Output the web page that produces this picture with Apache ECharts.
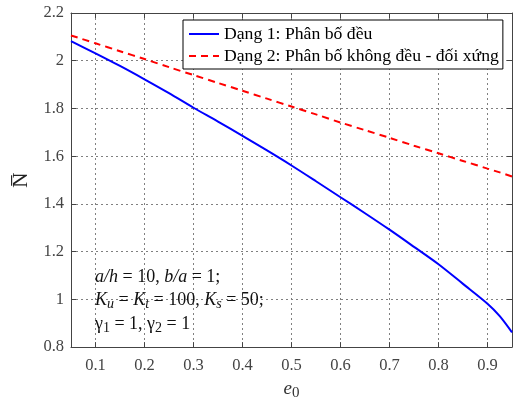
<!DOCTYPE html>
<html>
<head>
<meta charset="utf-8">
<script src="https://cdn.jsdelivr.net/npm/echarts@6/dist/echarts.min.js"></script>
<style>
  html, body { margin: 0; padding: 0; background: #fff; }
  #chart { width: 514px; height: 406px; }
</style>
</head>
<body>
<div id="chart"></div>
<script>
let myChart = echarts.init(document.getElementById('chart'));

// e0 values and the two curves
let e0 = [0.05, 0.1, 0.15, 0.2, 0.25, 0.3, 0.35, 0.4, 0.45, 0.5, 0.55, 0.6, 0.65, 0.7, 0.75, 0.8, 0.85, 0.9, 0.925, 0.95];
let dang1 = [2.082, 2.031, 1.978, 1.922, 1.864, 1.803, 1.745, 1.685, 1.624, 1.561, 1.495, 1.428, 1.361, 1.292, 1.22, 1.147, 1.065, 0.982, 0.93, 0.862];
let dang2 = [2.106, 2.073, 2.040, 2.007, 1.973, 1.940, 1.907, 1.874, 1.841, 1.808, 1.775, 1.741, 1.709, 1.677, 1.644, 1.612, 1.58, 1.548, 1.532, 1.515];

let names = ['Dạng 1: Phân bố đều', 'Dạng 2: Phân bố không đều - đối xứng'];

let FONT = '"Liberation Serif", "DejaVu Serif", serif';

function pairs(xs, ys) {
	return xs.map((x, i) => [x, ys[i]]);
}

let gridLine = {
	show: true,
	lineStyle: { color: '#808080', type: [2, 3], width: 1 }
};

option = {
	animation: false,
	backgroundColor: '#fff',
	grid: {
		left: 71,
		right: 2,
		top: 13,
		bottom: 57
	},
	legend: {
		orient: 'vertical',
		left: 183,
		top: 20,
		itemWidth: 30,
		itemHeight: 14,
		itemGap: 4,
		padding: [5, 4, 4, 5],
		backgroundColor: '#fff',
		borderColor: '#000',
		borderWidth: 1,
		borderRadius: 0,
		itemStyle: { opacity: 0 },
		textStyle: { fontFamily: FONT, fontSize: 17.7, color: '#000' },
		data: names
	},
	xAxis: [
		{
			type: 'value',
			min: 0.05,
			max: 0.95,
			splitNumber: 9,
			name: '{e|e}{s|0}',
			nameLocation: 'middle',
			nameGap: 27,
			nameTextStyle: {
				rich: {
					e: { fontFamily: FONT, fontStyle: 'italic', fontSize: 19, color: '#333' },
					s: { fontFamily: FONT, fontSize: 15, color: '#333', verticalAlign: 'bottom', padding: [10, 0, 0, 0] }
				}
			},
			axisLine: { show: true, lineStyle: { color: '#444', width: 1 } },
			axisTick: { show: true, inside: true, length: 5, lineStyle: { color: '#444' } },
			axisLabel: { showMinLabel: false, showMaxLabel: false, fontFamily: FONT, fontSize: 16.5, color: '#444', margin: 10 },
			splitLine: gridLine
		},
		{
			type: 'value',
			position: 'top',
			min: 0.05,
			max: 0.95,
			splitNumber: 9,
			axisLine: { show: true, lineStyle: { color: '#444', width: 1 } },
			axisTick: { show: true, inside: true, length: 5, lineStyle: { color: '#444' } },
			axisLabel: { show: false },
			splitLine: { show: false }
		}
	],
	yAxis: [
		{
			type: 'value',
			min: 0.8,
			max: 2.2,
			interval: 0.2,
			name: 'N\u0305',
			nameLocation: 'middle',
			nameRotate: 90,
			nameGap: 33,
			nameTextStyle: { fontFamily: FONT, fontSize: 21, color: '#222' },
			axisLine: { show: true, lineStyle: { color: '#444', width: 1 } },
			axisTick: { show: true, inside: true, length: 5, lineStyle: { color: '#444' } },
			axisLabel: { fontFamily: FONT, fontSize: 16.5, color: '#444', margin: 7 },
			splitLine: gridLine
		},
		{
			type: 'value',
			position: 'right',
			min: 0.8,
			max: 2.2,
			interval: 0.2,
			axisLine: { show: true, lineStyle: { color: '#444', width: 1 } },
			axisTick: { show: true, inside: true, length: 5, lineStyle: { color: '#444' } },
			axisLabel: { show: false },
			splitLine: { show: false }
		}
	],
	series: [
		{
			name: names[0],
			type: 'line',
			symbol: 'none',
			smooth: 0.3,
			lineStyle: { color: '#0000ff', width: 2 },
			itemStyle: { color: '#0000ff' },
			data: pairs(e0, dang1),
			z: 3
		},
		{
			name: names[1],
			type: 'line',
			symbol: 'none',
			smooth: 0.3,
			lineStyle: { color: '#ff0000', width: 2, type: [7, 5] },
			itemStyle: { color: '#ff0000' },
			data: pairs(e0, dang2),
			z: 3
		}
	],
	graphic: [
		{
			type: 'text',
			left: 95,
			top: 268,
			z: 10,
			style: {
				text: '{i|a/h} = 10, {i|b/a} = 1;',
				rich: {
					i: { fontFamily: FONT, fontStyle: 'italic', fontSize: 18, fill: '#111' }
				},
				font: '18px ' + FONT,
				fill: '#111'
			}
		},
		{
			type: 'text',
			left: 95,
			top: 291,
			z: 10,
			style: {
				text: '{i|K}{s|u} = {i|K}{s|t} = 100, {i|K}{s|s} = 50;',
				rich: {
					i: { fontFamily: FONT, fontStyle: 'italic', fontSize: 18, fill: '#111' },
					s: { fontFamily: FONT, fontStyle: 'italic', fontSize: 14, fill: '#111', padding: [9, 0, 0, 0] }
				},
				font: '18px ' + FONT,
				fill: '#111'
			}
		},
		{
			type: 'text',
			left: 95,
			top: 315,
			z: 10,
			style: {
				text: 'γ{s|1} = 1, γ{s|2} = 1',
				rich: {
					s: { fontFamily: FONT, fontSize: 14, fill: '#111', padding: [9, 0, 0, 0] }
				},
				font: '18px ' + FONT,
				fill: '#111'
			}
		}
	]
};

myChart.setOption(option);
</script>
</body>
</html>
